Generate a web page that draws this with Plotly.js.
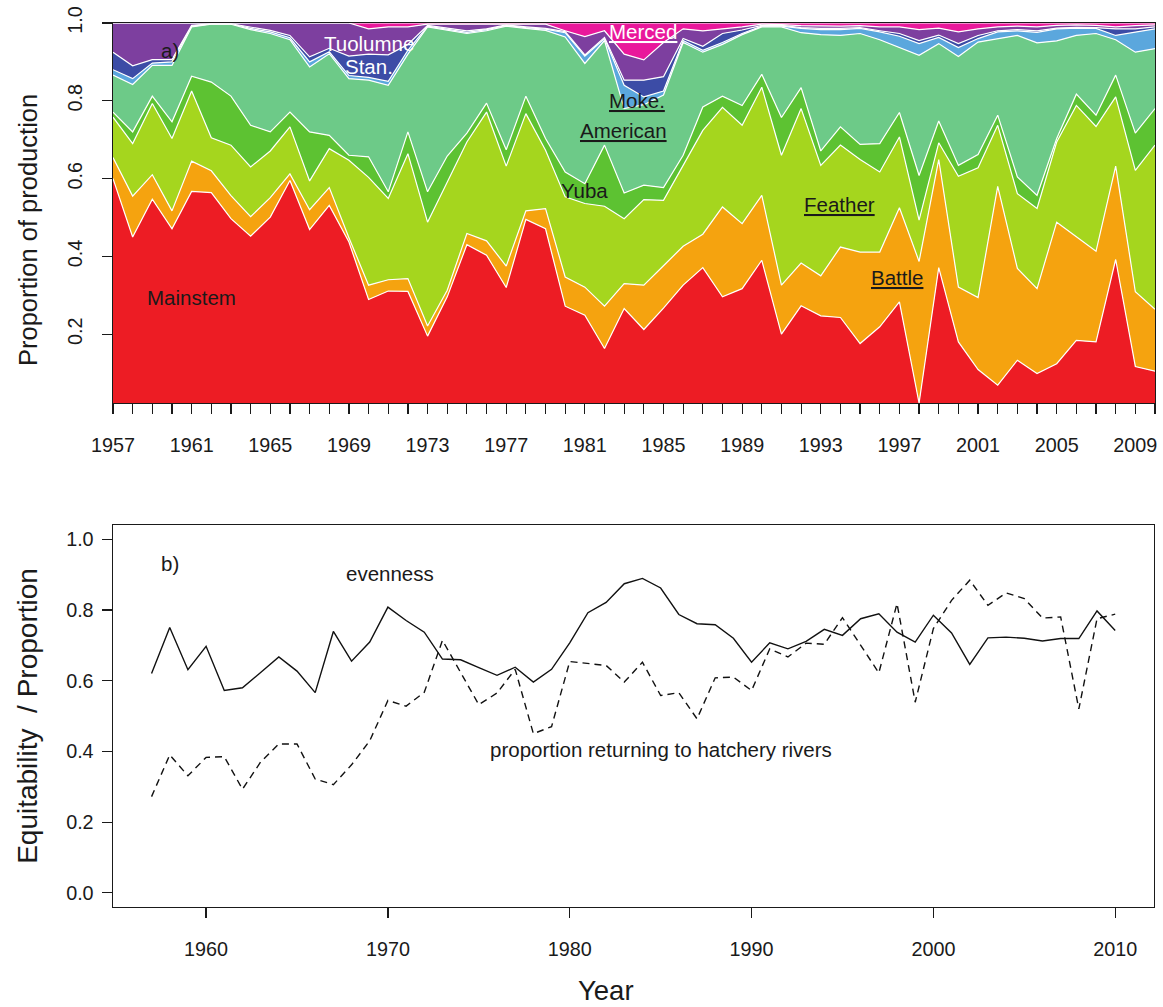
<!DOCTYPE html>
<html>
<head>
<meta charset="utf-8">
<script src="https://cdn.plot.ly/plotly-3.0.1.min.js"></script>
<style>html,body{margin:0;padding:0;background:#fff;}#chart{width:1163px;height:1007px;}</style>
</head>
<body>
<div id="chart"></div>
<script>
// ---------- DATA ----------
const years = [1957,1958,1959,1960,1961,1962,1963,1964,1965,1966,
  1967,1968,1969,1970,1971,1972,1973,1974,1975,1976,
  1977,1978,1979,1980,1981,1982,1983,1984,1985,1986,
  1987,1988,1989,1990,1991,1992,1993,1994,1995,1996,
  1997,1998,1999,2000,2001,2002,2003,2004,2005,2006,
  2007,2008,2009,2010];

// Panel a): cumulative proportion of production at the top of each river's band
const cumMainstem = [0.600,0.450,0.547,0.471,0.567,0.564,0.497,0.452,0.501,0.595,
  0.469,0.531,0.437,0.289,0.311,0.310,0.195,0.296,0.430,0.403,
  0.320,0.495,0.471,0.272,0.249,0.163,0.266,0.212,0.267,0.326,
  0.371,0.296,0.317,0.390,0.200,0.273,0.247,0.243,0.176,0.219,
  0.283,0.023,0.371,0.180,0.109,0.069,0.133,0.099,0.124,0.184,
  0.180,0.392,0.117,0.105];
const cumBattle = [0.654,0.555,0.610,0.517,0.645,0.620,0.556,0.502,0.551,0.612,
  0.520,0.577,0.448,0.326,0.340,0.343,0.221,0.313,0.459,0.440,
  0.375,0.517,0.523,0.347,0.321,0.272,0.330,0.326,0.376,0.426,
  0.457,0.527,0.484,0.557,0.326,0.383,0.350,0.424,0.411,0.411,
  0.525,0.387,0.649,0.321,0.294,0.580,0.369,0.317,0.488,0.450,
  0.413,0.632,0.309,0.264];
const cumFeather = [0.758,0.690,0.793,0.703,0.825,0.705,0.686,0.630,0.671,0.733,
  0.594,0.677,0.647,0.603,0.549,0.664,0.488,0.589,0.694,0.771,
  0.632,0.767,0.673,0.553,0.536,0.529,0.497,0.546,0.544,0.634,
  0.724,0.783,0.737,0.835,0.660,0.780,0.634,0.686,0.649,0.617,
  0.707,0.493,0.692,0.606,0.628,0.737,0.561,0.523,0.694,0.788,
  0.734,0.810,0.621,0.686];
const cumYuba = [0.771,0.720,0.812,0.746,0.863,0.848,0.812,0.737,0.720,0.771,
  0.720,0.711,0.660,0.656,0.566,0.720,0.566,0.658,0.717,0.794,
  0.674,0.812,0.703,0.617,0.587,0.686,0.563,0.583,0.577,0.660,
  0.784,0.812,0.788,0.868,0.757,0.834,0.671,0.733,0.688,0.690,
  0.770,0.608,0.748,0.634,0.662,0.763,0.604,0.557,0.703,0.817,
  0.763,0.866,0.717,0.780];
const cumAmerican = [0.866,0.842,0.891,0.891,0.990,0.997,0.997,0.983,0.973,0.957,
  0.887,0.921,0.857,0.853,0.840,0.920,0.990,0.981,0.973,0.980,
  0.992,0.986,0.981,0.964,0.896,0.955,0.780,0.790,0.815,0.950,
  0.925,0.945,0.970,0.990,0.990,0.975,0.970,0.968,0.973,0.957,
  0.938,0.917,0.947,0.914,0.951,0.960,0.968,0.949,0.954,0.968,
  0.973,0.957,0.925,0.934];
const cumMoke = [0.880,0.857,0.897,0.900,0.992,0.998,0.998,0.986,0.977,0.962,
  0.900,0.926,0.865,0.860,0.850,0.930,0.992,0.984,0.976,0.983,
  0.994,0.988,0.984,0.975,0.915,0.960,0.840,0.810,0.825,0.955,
  0.930,0.950,0.973,0.992,0.992,0.986,0.983,0.983,0.986,0.977,
  0.966,0.947,0.963,0.937,0.960,0.977,0.980,0.976,0.985,0.987,
  0.986,0.968,0.976,0.985];
const cumStan = [0.925,0.890,0.906,0.906,0.994,0.998,0.998,0.990,0.981,0.968,
  0.913,0.935,0.915,0.920,0.918,0.945,0.994,0.987,0.980,0.985,
  0.995,0.990,0.986,0.978,0.918,0.963,0.853,0.853,0.862,0.960,
  0.940,0.973,0.982,0.994,0.994,0.988,0.986,0.986,0.988,0.980,
  0.973,0.955,0.969,0.947,0.968,0.980,0.983,0.980,0.987,0.989,
  0.988,0.985,0.985,0.990];
const cumTuolumne = [1.000,1.000,1.000,1.000,1.000,1.000,1.000,1.000,1.000,1.000,
  1.000,1.000,1.000,0.985,0.990,0.990,0.997,0.997,0.997,0.997,
  0.997,0.997,0.997,0.980,0.965,0.980,0.920,0.905,0.950,0.985,
  0.980,0.985,0.990,0.997,0.996,0.993,0.992,0.992,0.993,0.990,
  0.990,0.983,0.987,0.977,0.985,0.990,0.992,0.990,0.994,0.995,
  0.994,0.990,0.993,0.995];
const cumMerced = [1,1,1,1,1,1,1,1,1,1, 1,1,1,1,1,1,1,1,1,1,
  1,1,1,1,1,1,1,1,1,1, 1,1,1,1,1,1,1,1,1,1,
  1,1,1,1,1,1,1,1,1,1, 1,1,1,1];

// Panel b)
const evenness = [0.620,0.750,0.631,0.697,0.572,0.580,0.623,0.667,0.627,0.566,
  0.739,0.655,0.709,0.808,0.770,0.737,0.661,0.659,0.637,0.615,
  0.638,0.596,0.632,0.707,0.792,0.821,0.874,0.889,0.862,0.787,
  0.761,0.758,0.720,0.652,0.707,0.690,0.711,0.745,0.728,0.775,
  0.789,0.737,0.709,0.785,0.735,0.646,0.721,0.723,0.720,0.712,
  0.719,0.719,0.797,0.742];
const hatcheryProportion = [0.272,0.390,0.331,0.383,0.385,0.293,0.370,0.421,0.421,0.322,
  0.306,0.362,0.430,0.544,0.528,0.567,0.714,0.623,0.532,0.565,
  0.632,0.450,0.470,0.654,0.648,0.643,0.596,0.652,0.558,0.566,
  0.492,0.608,0.610,0.572,0.690,0.667,0.706,0.703,0.778,0.700,
  0.622,0.818,0.539,0.747,0.827,0.884,0.813,0.848,0.832,0.777,
  0.780,0.520,0.775,0.788];

const topTickLabels = ['1957','1961','1965','1969','1973','1977','1981','1985','1989','1993','1997','2001','2005','2009'];
const topYTicks = [0.2,0.4,0.6,0.8,1.0];
const topYTickLabels = ['0.2','0.4','0.6','0.8','1.0'];
const bottomXTicks = [1960,1970,1980,1990,2000,2010];
const bottomYTicks = [0,0.2,0.4,0.6,0.8,1.0];
const bottomYTickLabels = ['0.0','0.2','0.4','0.6','0.8','1.0'];

// ---------- STYLE ----------
const FONT = 'Liberation Sans, Arial, Helvetica, sans-serif';
const INK = '#1a1a1a';
const bands = [
  {name:'Mainstem', y:cumMainstem, color:'#ED1C24'},
  {name:'Battle', y:cumBattle, color:'#F5A30F'},
  {name:'Feather', y:cumFeather, color:'#A5D61E'},
  {name:'Yuba', y:cumYuba, color:'#5DC232'},
  {name:'American', y:cumAmerican, color:'#6DCA88'},
  {name:'Moke.', y:cumMoke, color:'#5BA7DD'},
  {name:'Stan.', y:cumStan, color:'#3C4CA6'},
  {name:'Tuolumne', y:cumTuolumne, color:'#7D3F9F'},
  {name:'Merced', y:cumMerced, color:'#E9189B'}
];

const traces = bands.map((b, i) => ({
  type:'scatter', mode:'lines', name:b.name,
  x:years, y:b.y, xaxis:'x', yaxis:'y',
  fill: i === 0 ? 'tozeroy' : 'tonexty',
  fillcolor:b.color,
  line:{color:'#ffffff', width:1.2},
  hoverinfo:'skip', showlegend:false
}));

traces.push({
  type:'scatter', mode:'lines', name:'evenness',
  x:years, y:evenness, xaxis:'x2', yaxis:'y2',
  line:{color:'#111', width:1.4}, showlegend:false
});
traces.push({
  type:'scatter', mode:'lines', name:'proportion returning to hatchery rivers',
  x:years, y:hatcheryProportion, xaxis:'x2', yaxis:'y2',
  line:{color:'#111', width:1.4, dash:'7px,5px'}, showlegend:false
});

const axisCommon = {
  showline:true, linecolor:INK, linewidth:1.4, mirror:true,
  ticks:'outside', ticklen:10, tickwidth:1.2, tickcolor:INK,
  showgrid:false, zeroline:false,
  tickfont:{family:FONT, size:19.8, color:INK}
};

const ann = (x, y, text, opts) => Object.assign({
  x, y, text, showarrow:false, xanchor:'center', yanchor:'middle',
  font:{family:FONT, size:20.5, color:INK}
}, opts || {});

const annotations = [
  ann(1959.9, 0.930, 'a)', {xref:'x', yref:'y'}),
  ann(1970.0, 0.948, 'Tuolumne', {xref:'x', yref:'y', font:{family:FONT, size:20.5, color:'#ffffff'}}),
  ann(1970.0, 0.889, 'Stan.', {xref:'x', yref:'y', font:{family:FONT, size:20.5, color:'#ffffff'}}),
  ann(1983.95, 0.979, '<u>Merced</u>', {xref:'x', yref:'y', font:{family:FONT, size:20.5, color:'#ffffff'}}),
  ann(1983.65, 0.801, '<u>Moke.</u>', {xref:'x', yref:'y'}),
  ann(1982.95, 0.724, '<u>American</u>', {xref:'x', yref:'y'}),
  ann(1981.0, 0.569, 'Yuba', {xref:'x', yref:'y'}),
  ann(1993.95, 0.533, '<u>Feather</u>', {xref:'x', yref:'y'}),
  ann(1996.9, 0.346, '<u>Battle</u>', {xref:'x', yref:'y'}),
  ann(1961.0, 0.295, 'Mainstem', {xref:'x', yref:'y'}),
  ann(1958.0, 0.932, 'b)', {xref:'x2', yref:'y2'}),
  ann(1970.1, 0.904, 'evenness', {xref:'x2', yref:'y2'}),
  ann(1985.0, 0.406, 'proportion returning to hatchery rivers', {xref:'x2', yref:'y2'}),
  // axis titles placed as in the reference
  ann(-0.0816, 0.7658, 'Proportion of production', {xref:'paper', yref:'paper', textangle:-90,
      font:{family:FONT, size:25.5, color:INK}}),
  ann(0.4731, -0.0950, 'Year', {xref:'paper', yref:'paper',
      font:{family:FONT, size:27.5, color:INK}})
];

const layout = {
  width:1163, height:1007,
  margin:{l:113, r:8, t:23, b:100},
  paper_bgcolor:'#ffffff', plot_bgcolor:'#ffffff',
  font:{family:FONT, color:INK},
  showlegend:false,
  xaxis: Object.assign({}, axisCommon, {
    domain:[0,1], anchor:'y', range:[1957,2010],
    tickmode:'array', tickvals:years,
    ticktext:years.map(v => topTickLabels.includes(String(v)) ? String(v) : ''),
    ticklabelstandoff:14
  }),
  yaxis: Object.assign({}, axisCommon, {
    domain:[0.5701,1], anchor:'x', range:[0.023,1.0],
    tickmode:'array', tickvals:topYTicks, ticktext:topYTickLabels,
    tickangle:-90, ticklabelstandoff:12
  }),
  xaxis2: Object.assign({}, axisCommon, {
    domain:[0,0.9988], anchor:'y2', range:[1954.88,2012.12],
    tickmode:'array', tickvals:bottomXTicks, ticktext:bottomXTicks.map(String),
    ticklabelstandoff:14
  }),
  yaxis2: Object.assign({}, axisCommon, {
    domain:[0,0.4321], anchor:'x2', range:[-0.04,1.04],
    tickmode:'array', tickvals:bottomYTicks, ticktext:bottomYTickLabels,
    ticklabelstandoff:4,
    title:{text:'Equitability  / Proportion', font:{family:FONT, size:28, color:INK}, standoff:20}
  }),
  annotations
};

Plotly.newPlot('chart', traces, layout, {staticPlot:true, displayModeBar:false});
</script>
</body>
</html>
